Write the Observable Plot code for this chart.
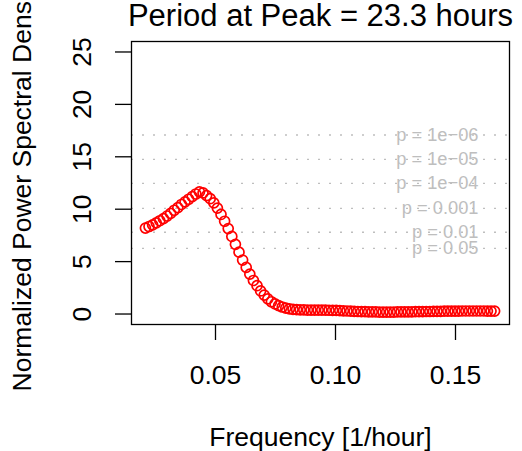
<!DOCTYPE html>
<html>
<head>
<meta charset="utf-8">
<script src="https://cdn.jsdelivr.net/npm/d3@7"></script>
<script src="https://cdn.jsdelivr.net/npm/@observablehq/plot@0.6"></script>
<style>
  html, body { margin: 0; padding: 0; background: white; }
  #chart svg { display: block; }
</style>
</head>
<body>
<div id="chart"></div>
<script>
const titleText = "Period at Peak = 23.3 hours";
const xLabel = "Frequency [1/hour]";
const yLabel = "Normalized Power Spectral Density";

const xTicks = [0.05, 0.10, 0.15];
const yTicks = [0, 5, 10, 15, 20, 25];

const freq = [
  0.0208, 0.0223, 0.0238, 0.0253, 0.0268, 0.0283, 0.0298, 0.0313, 0.0328, 0.0343,
  0.0358, 0.0373, 0.0388, 0.0403, 0.0418, 0.0433, 0.0448, 0.0463, 0.0478, 0.0493,
  0.0508, 0.0523, 0.0538, 0.0553, 0.0568, 0.0583, 0.0598, 0.0613, 0.0628, 0.0643,
  0.0658, 0.0673, 0.0688, 0.0703, 0.0718, 0.0733, 0.0748, 0.0763, 0.0778, 0.0793,
  0.0808, 0.0823, 0.0838, 0.0853, 0.0868, 0.0883, 0.0898, 0.0913, 0.0928, 0.0943,
  0.0958, 0.0973, 0.0988, 0.1003, 0.1018, 0.1033, 0.1048, 0.1063, 0.1078, 0.1093,
  0.1108, 0.1123, 0.1138, 0.1153, 0.1168, 0.1183, 0.1198, 0.1213, 0.1228, 0.1243,
  0.1258, 0.1273, 0.1288, 0.1303, 0.1318, 0.1333, 0.1348, 0.1363, 0.1378, 0.1393,
  0.1408, 0.1423, 0.1438, 0.1453, 0.1468, 0.1483, 0.1498, 0.1513, 0.1528, 0.1543,
  0.1558, 0.1573, 0.1588, 0.1603, 0.1618, 0.1633, 0.1648, 0.1663
];

const power = [
  8.2, 8.35, 8.5, 8.7, 8.9, 9.1, 9.35, 9.6, 9.9, 10.15,
  10.45, 10.7, 10.95, 11.2, 11.45, 11.65, 11.55, 11.3, 11.0, 10.6,
  10.1, 9.5, 8.85, 8.15, 7.4, 6.65, 5.9, 5.15, 4.45, 3.8,
  3.2, 2.7, 2.2, 1.8, 1.45, 1.17, 0.96, 0.8, 0.67, 0.57,
  0.5, 0.45, 0.42, 0.4, 0.39, 0.38, 0.38, 0.38, 0.38, 0.38,
  0.37, 0.36, 0.35, 0.34, 0.32, 0.3, 0.29, 0.27, 0.26, 0.24,
  0.23, 0.22, 0.21, 0.2, 0.2, 0.19, 0.19, 0.19, 0.19, 0.19,
  0.2, 0.2, 0.2, 0.21, 0.21, 0.22, 0.22, 0.23, 0.24, 0.24,
  0.25, 0.26, 0.26, 0.27, 0.27, 0.28, 0.28, 0.28, 0.29, 0.29,
  0.29, 0.29, 0.29, 0.29, 0.29, 0.28, 0.28, 0.28
];

const sigLabels = ["p = 1e\u221206", "p = 1e\u221205", "p = 1e\u221204", "p = 0.001", "p = 0.01", "p = 0.05"];
const sigLevels = [17.08, 14.76, 12.47, 10.08, 7.8, 6.27];

const points = freq.map((f, i) => ({f, p: power[i]}));
const sig = sigLevels.map((v, i) => ({v, label: sigLabels[i]}));

const font = "'Liberation Sans', Arial, Helvetica, sans-serif";

const chart = Plot.plot({
  width: 522,
  height: 451,
  marginLeft: 131,
  marginRight: 13,
  marginTop: 41,
  marginBottom: 127,
  style: {fontFamily: font, color: "black", background: "white", overflow: "hidden"},
  x: {domain: [0.01500, 0.17250], ticks: xTicks},
  y: {domain: [-1, 26], ticks: yTicks},
  marks: [
    Plot.ruleY(sig, {y: "v", stroke: "#bebebe", strokeWidth: 1.3, strokeDasharray: "2,9"}),
    Plot.text(sig, {y: "v", text: "label", frameAnchor: "right", dx: -31, textAnchor: "end", lineAnchor: "middle", fill: "#bebebe", fontSize: 18.3}),
    Plot.dot(points, {x: "f", y: "p", r: 5, stroke: "red", strokeWidth: 1.7, fill: "none"}),
    Plot.frame({stroke: "black", strokeWidth: 1.3}),
    Plot.axisX({ticks: xTicks, tickSize: 16, tickPadding: 25, tickFormat: d3.format(".2f"), fontSize: 26.5, label: null, strokeWidth: 1.3}),
    Plot.axisY({ticks: yTicks, tickSize: 16, tickPadding: 25, tickRotate: -90, fontSize: 26.5, label: null, strokeWidth: 1.3}),
    Plot.text([titleText], {frameAnchor: "top", dy: -16, lineAnchor: "bottom", fontSize: 31, fill: "black"}),
    Plot.text([xLabel], {frameAnchor: "bottom", dy: 121, lineAnchor: "bottom", fontSize: 26.5, fill: "black"}),
    Plot.text([yLabel], {frameAnchor: "left", dx: -109, rotate: -90, textAnchor: "middle", lineAnchor: "middle", fontSize: 26.5, fill: "black"})
  ]
});
document.getElementById("chart").appendChild(chart);
</script>
</body>
</html>
